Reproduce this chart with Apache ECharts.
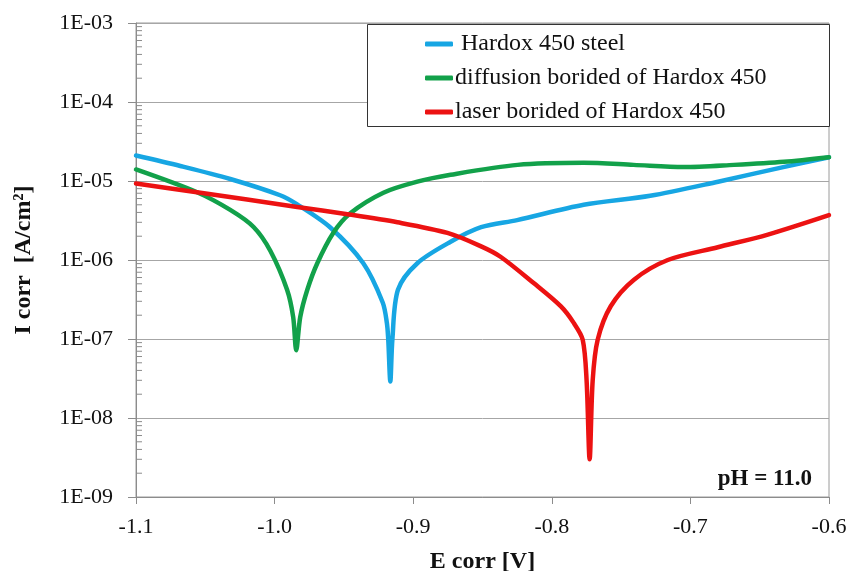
<!DOCTYPE html>
<html>
<head>
<meta charset="utf-8">
<script src="https://cdn.jsdelivr.net/npm/echarts@6/dist/echarts.min.js"></script>
<style>
html,body{margin:0;padding:0;background:#fff;}
#c{width:851px;height:571px;}
</style>
</head>
<body>
<div id="c"></div>
<script>
// Data (E corr [V], I corr [A/cm2])
const seriesNames = ['Hardox 450 steel', 'diffusion borided of Hardox 450', 'laser borided of Hardox 450'];
const hardoxSteel = [
  [-1.100, 2.1e-5], [-1.068, 1.55e-5], [-1.032, 1.06e-5], [-0.996, 6.6e-6], [-0.984, 5.1e-6],
  [-0.960, 2.6e-6], [-0.936, 9.1e-7], [-0.922, 2.9e-7], [-0.919, 1.6e-7], [-0.918, 9.8e-8],
  [-0.9165, 2.9e-8], [-0.915, 1.0e-7], [-0.911, 4.2e-7], [-0.897, 9.1e-7], [-0.873, 1.7e-6],
  [-0.851, 2.6e-6], [-0.825, 3.2e-6], [-0.777, 5.0e-6], [-0.729, 6.5e-6], [-0.680, 9.8e-6],
  [-0.633, 1.5e-5], [-0.600, 2.0e-5]
];
const diffusionBorided = [
  [-1.100, 1.4e-5], [-1.056, 7.2e-6], [-1.032, 4.3e-6], [-1.015, 2.6e-6], [-1.003, 1.3e-6],
  [-0.991, 4.2e-7], [-0.9866, 1.9e-7], [-0.9844, 7.2e-8], [-0.9815, 1.9e-7], [-0.9764, 4.2e-7],
  [-0.9692, 9.1e-7], [-0.9577, 2.2e-6], [-0.9454, 3.9e-6], [-0.9215, 7.1e-6], [-0.897, 9.8e-6],
  [-0.873, 1.2e-5], [-0.8247, 1.6e-5], [-0.777, 1.7e-5], [-0.741, 1.6e-5], [-0.705, 1.5e-5],
  [-0.6686, 1.6e-5], [-0.6325, 1.75e-5], [-0.600, 2.0e-5]
];
const laserBorided = [
  [-1.100, 9.3e-6], [-1.056, 7.2e-6], [-0.9837, 4.7e-6], [-0.9475, 3.8e-6], [-0.9114, 3.0e-6],
  [-0.8753, 2.2e-6], [-0.8514, 1.5e-6], [-0.837, 1.1e-6], [-0.8131, 5.1e-7], [-0.7936, 2.6e-7],
  [-0.7842, 1.6e-7], [-0.7777, 9.8e-8], [-0.7749, 3.0e-8], [-0.7727, 3.0e-9], [-0.7705, 3.0e-8],
  [-0.7669, 9.8e-8], [-0.7575, 2.6e-7], [-0.7409, 5.6e-7], [-0.7163, 1.0e-6], [-0.6802, 1.45e-6],
  [-0.6441, 2.1e-6], [-0.600, 3.7e-6]
];
const yTickLabels = ['1E-09', '1E-08', '1E-07', '1E-06', '1E-05', '1E-04', '1E-03'];
const xTickLabels = ['-1.1', '-1.0', '-0.9', '-0.8', '-0.7', '-0.6'];
const minorTickValues = [
  2e-9,3e-9,4e-9,5e-9,6e-9,7e-9,8e-9,9e-9,
  2e-8,3e-8,4e-8,5e-8,6e-8,7e-8,8e-8,9e-8,
  2e-7,3e-7,4e-7,5e-7,6e-7,7e-7,8e-7,9e-7,
  2e-6,3e-6,4e-6,5e-6,6e-6,7e-6,8e-6,9e-6,
  2e-5,3e-5,4e-5,5e-5,6e-5,7e-5,8e-5,9e-5,
  2e-4,3e-4,4e-4,5e-4,6e-4,7e-4,8e-4,9e-4
];
const colors = ['#17a6e3', '#12a14a', '#ec1212'];

const FONT = '"Liberation Serif", "Times New Roman", serif';
const chart = echarts.init(document.getElementById('c'), null, {renderer: 'canvas'});

const lineSeries = [hardoxSteel, diffusionBorided, laserBorided].map((d, i) => ({
  name: seriesNames[i],
  type: 'line',
  data: d,
  showSymbol: false,
  smooth: 0.3,
  lineStyle: {width: 4.5, color: colors[i], cap: 'round', join: 'round'},
  itemStyle: {color: colors[i]},
  z: 3 + i
}));

chart.setOption({
  animation: false,
  backgroundColor: '#fff',
  grid: {left: 136, right: 22, top: 23, bottom: 74, outerBoundsMode: 'none', containLabel: false,
         show: true, borderColor: '#9a9a9a', borderWidth: 1},
  xAxis: {
    type: 'value', min: -1.1, max: -0.6, interval: 0.1,
    name: 'E corr [V]', nameLocation: 'middle', nameGap: 53,
    nameTextStyle: {fontFamily: FONT, fontSize: 24, fontWeight: 'bold', color: '#111'},
    axisLine: {show: true, lineStyle: {color: '#8c8c8c'}},
    axisTick: {show: true, length: 7, lineStyle: {color: '#8c8c8c'}},
    splitLine: {show: false},
    axisLabel: {
      fontFamily: FONT, fontSize: 22, color: '#111', margin: 19,
      formatter: v => xTickLabels[Math.round((v + 1.1) / 0.1)]
    }
  },
  yAxis: {
    type: 'log', logBase: 10, min: 1e-9, max: 1e-3,
    name: 'I corr  [A/cm²]', nameLocation: 'middle', nameGap: 100, nameRotate: 90,
    nameTextStyle: {fontFamily: FONT, fontSize: 24, fontWeight: 'bold', color: '#111'},
    axisLine: {show: true, lineStyle: {color: '#8c8c8c'}},
    axisTick: {show: true, length: 8, lineStyle: {color: '#8c8c8c'}},
    splitLine: {show: true, lineStyle: {color: '#a6a6a6', width: 1}},
    axisLabel: {
      fontFamily: FONT, fontSize: 22, color: '#111', margin: 23,
      formatter: v => yTickLabels[Math.round(Math.log10(v)) + 9]
    }
  },
  legend: {
    data: seriesNames,
    orient: 'vertical',
    left: 420, top: 27,
    z: 20,
    itemWidth: 28, itemHeight: 5, itemGap: 10,
    icon: 'roundRect',
    formatter: n => n === seriesNames[0] ? ' ' + n : n,
    textStyle: {fontFamily: FONT, fontSize: 24, color: '#111', lineHeight: 24, padding: [0, 0, 0, -3]}
  },
  graphic: [
    {type: 'rect', left: 367, top: 24, shape: {width: 462, height: 102}, style: {fill: '#fff', stroke: '#333', lineWidth: 1}, z: 8},
    {type: 'text', right: 39, top: 468, style: {text: 'pH = 11.0', font: 'bold 23px ' + FONT, fill: '#111'}, z: 10}
  ],
  series: [
    {
      type: 'custom',
      data: minorTickValues.map(v => [-1.1, v]),
      clip: false,
      silent: true,
      z: 2,
      renderItem: (params, api) => {
        const p = api.coord([api.value(0), api.value(1)]);
        return {type: 'line', shape: {x1: p[0], y1: p[1], x2: p[0] + 6, y2: p[1]}, style: {stroke: '#8c8c8c', lineWidth: 1}};
      }
    }
  ].concat(lineSeries)
});
</script>
</body>
</html>
